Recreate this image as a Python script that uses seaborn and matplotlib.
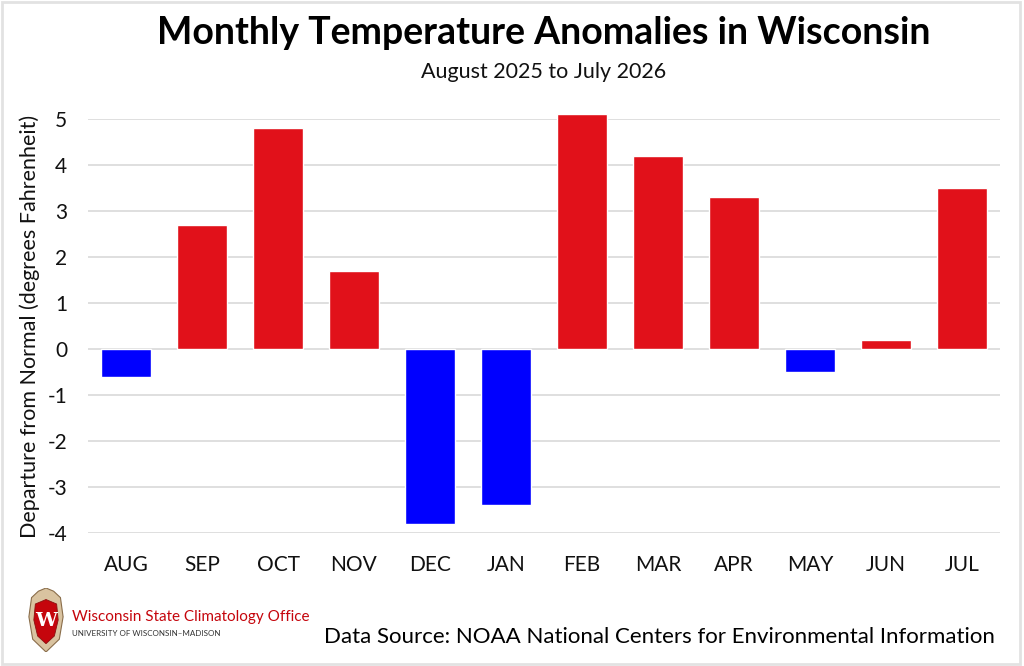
import numpy as np
import pandas as pd
import matplotlib
matplotlib.use("Agg")
import matplotlib.pyplot as plt
from matplotlib.patches import Rectangle, Polygon
import seaborn as sns

# data (degrees F departure from normal)
months = ["AUG", "SEP", "OCT", "NOV", "DEC", "JAN", "FEB", "MAR", "APR", "MAY", "JUN", "JUL"]
anomalies = [-0.6, 2.7, 4.8, 1.7, -3.8, -3.4, 5.1, 4.2, 3.3, -0.5, 0.2, 3.5]
y_ticks = [-4, -3, -2, -1, 0, 1, 2, 3, 4, 5]

df = pd.DataFrame({"month": months, "anomaly": anomalies})
df["sign"] = np.where(df["anomaly"] >= 0, "warm", "cold")

sns.set_style("white")
plt.rcParams["font.family"] = ["Lato", "DejaVu Sans"]

fig = plt.figure(figsize=(10.24, 6.66), dpi=100)
ax = fig.add_axes([88 / 1024, 1 - 533 / 666, 912 / 1024, 414 / 666])

sns.barplot(data=df, x="month", y="anomaly", hue="sign",
            palette={"warm": "#e1111a", "cold": "#0000ff"},
            dodge=False, legend=False, width=0.67, saturation=1, ax=ax, zorder=3)
# FEB pokes just above the top gridline
for bar in ax.patches:
    bar.set_clip_on(False)

ax.set_xlim(-0.5, len(months) - 0.5)
ax.set_ylim(-4, 5)
ax.set_yticks(y_ticks)
ax.set_yticklabels([str(t) for t in y_ticks])
ax.yaxis.grid(True, color="#d9d9d9", linewidth=1.2, zorder=0)
ax.set_axisbelow(True)
for s in ax.spines.values():
    s.set_visible(False)
ax.tick_params(axis="both", length=0, labelsize=15, colors="#111111")
ax.tick_params(axis="y", pad=15)
ax.tick_params(axis="x", pad=16)
ax.set_xlabel("")
ax.set_ylabel("Departure from Normal (degrees Fahrenheit)", fontsize=15.5,
              color="#111111", labelpad=5)

# titles centred over the plot area
cx = (88 + 1000) / 2 / 1024
fig.text(cx, 0.950, "Monthly Temperature Anomalies in Wisconsin",
         ha="center", va="center", fontsize=27, fontweight="bold", color="#000000")
fig.text(cx, 0.892, "August 2025 to July 2026",
         ha="center", va="center", fontsize=15.5, color="#111111")

fig.text(995 / 1024, 1 - 637 / 666, "Data Source: NOAA National Centers for Environmental Information",
         ha="right", va="center", fontsize=16, color="#000000")

# logo block
fig.text(72 / 1024, 1 - 617 / 666, "Wisconsin State Climatology Office",
         ha="left", va="center", fontsize=11, color="#c5050c")
fig.text(72 / 1024, 1 - 633 / 666, "UNIVERSITY OF WISCONSIN\u2013MADISON",
         ha="left", va="center", fontsize=5.8, color="#333333")

lax = fig.add_axes([27 / 1024, 1 - 652 / 666, 38 / 1024, 64 / 666])
lax.set_xlim(0, 1)
lax.set_ylim(0, 1)
lax.axis("off")
outer = [(0.12, 0.85), (0.3, 0.95), (0.5, 1.0), (0.7, 0.95), (0.88, 0.85),
         (0.95, 0.55), (0.85, 0.2), (0.5, 0.0), (0.15, 0.2), (0.05, 0.55)]
inner = [(0.22, 0.75), (0.5, 0.82), (0.78, 0.75), (0.82, 0.5), (0.72, 0.25),
         (0.5, 0.13), (0.28, 0.25), (0.18, 0.5)]
lax.add_patch(Polygon(outer, closed=True, facecolor="#d9c3a0", edgecolor="#8a6d4a", linewidth=0.8))
lax.add_patch(Polygon(inner, closed=True, facecolor="#c5050c", edgecolor="#8a1010", linewidth=0.6))
lax.text(0.5, 0.48, "W", ha="center", va="center", fontsize=14, fontweight="bold",
         color="white", family="DejaVu Serif")

# light frame around the whole image
fig.patches.append(Rectangle((2 / 1024, 2 / 666), 1018 / 1024, 662 / 666,
                             transform=fig.transFigure, fill=False,
                             edgecolor="#e2e2e2", linewidth=2))

fig.savefig("out.png", dpi=100)
